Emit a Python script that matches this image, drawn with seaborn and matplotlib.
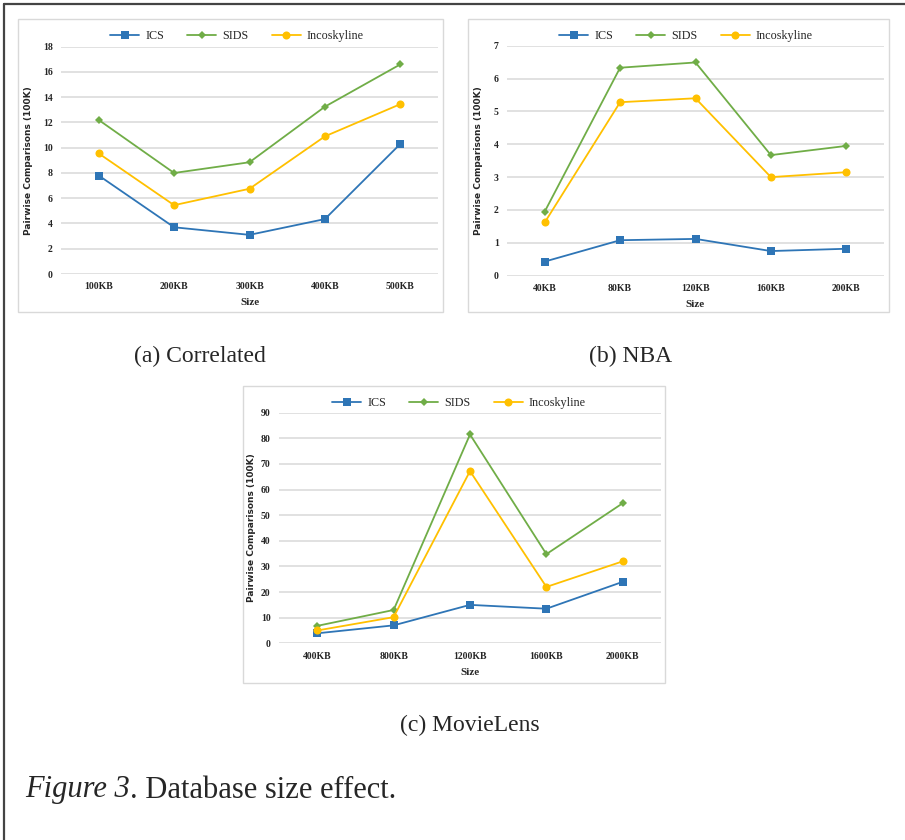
import numpy as np
import pandas as pd
import seaborn as sns
import matplotlib.pyplot as plt
from matplotlib.patches import Rectangle
from matplotlib.lines import Line2D

W, H = 905, 840

series = ['ICS', 'SIDS', 'Incoskyline']
colors = {'ICS': '#2E75B6', 'SIDS': '#70AD47', 'Incoskyline': '#FFC000'}
markers = {'ICS': 's', 'SIDS': 'D', 'Incoskyline': 'o'}
msizes = {'ICS': 5.4, 'SIDS': 3.6, 'Incoskyline': 5.8}

# (a) Correlated
corr_sizes = ['100KB', '200KB', '300KB', '400KB', '500KB']
corr_ics = [7.8, 3.7, 3.1, 4.35, 10.3]
corr_sids = [12.2, 8.0, 8.85, 13.25, 16.6]
corr_inco = [9.55, 5.45, 6.75, 10.9, 13.45]

# (b) NBA
nba_sizes = ['40KB', '80KB', '120KB', '160KB', '200KB']
nba_ics = [0.43, 1.08, 1.12, 0.75, 0.82]
nba_sids = [1.95, 6.33, 6.49, 3.67, 3.95]
nba_inco = [1.62, 5.28, 5.40, 3.0, 3.15]

# (c) MovieLens
movie_sizes = ['400KB', '800KB', '1200KB', '1600KB', '2000KB']
movie_ics = [3.9, 7.0, 15.0, 13.5, 24.0]
movie_sids = [6.8, 13.0, 81.5, 34.8, 54.7]
movie_inco = [5.0, 10.2, 67.2, 22.0, 32.0]

sns.set_style('white')
serif = 'Liberation Serif'

fig = plt.figure(figsize=(W / 100, H / 100), dpi=100)


def rect(l, t, r, b):
    return [l / W, 1 - b / H, (r - l) / W, (b - t) / H]


def panel(ax_px, sizes, vals, ymax, ystep, box_px, leg_x, leg_y, ylab_off, caption, cap_xy):
    l, t, r, b = box_px
    fig.add_artist(Rectangle((l / W, 1 - b / H), (r - l) / W, (b - t) / H,
                             transform=fig.transFigure, fill=False,
                             edgecolor='#D9D9D9', lw=1))
    ax = fig.add_axes(rect(*ax_px))
    for name, v in zip(series, vals):
        df = pd.DataFrame({'Size': sizes, 'value': v})
        sns.lineplot(data=df, x='Size', y='value', ax=ax, sort=False,
                     color=colors[name], marker=markers[name],
                     markersize=msizes[name], markeredgewidth=0,
                     lw=1.3, label=name)
    if ax.get_legend() is not None:
        ax.get_legend().remove()
    ax.set_xlim(-0.5, len(sizes) - 0.5)
    ax.set_ylim(0, ymax)
    ax.set_yticks(np.arange(0, ymax + ystep / 2, ystep))
    ax.grid(axis='y', color='#D9D9D9', lw=1.1)
    ax.grid(axis='x', visible=False)
    for s in ax.spines.values():
        s.set_visible(False)
    ax.tick_params(length=0, pad=6, labelsize=7)
    for tl in ax.get_xticklabels() + ax.get_yticklabels():
        tl.set_fontfamily(serif)
        tl.set_fontweight('bold')
    ax.set_xlabel('Size', fontfamily=serif, fontweight='bold', fontsize=8, labelpad=5)
    ax.set_ylabel('Pairwise Comparisons (100K)', fontfamily='DejaVu Sans',
                  fontweight='bold', fontsize=6.5)
    ax.yaxis.set_label_coords(ylab_off / (ax_px[2] - ax_px[0]), 0.5)
    h, lb = ax.get_legend_handles_labels()
    fig.legend(h, lb, loc='center', bbox_to_anchor=(leg_x / W, 1 - leg_y / H),
               ncol=3, frameon=False, handlelength=2.4, columnspacing=1.9,
               handletextpad=0.5, prop={'family': serif, 'size': 8.7})
    fig.text(cap_xy[0] / W, 1 - cap_xy[1] / H, caption, ha='center', va='center',
             fontfamily=serif, fontsize=17)
    return ax


panel((61, 46.7, 438, 274), corr_sizes, [corr_ics, corr_sids, corr_inco], 18, 2,
      (18, 19, 443, 312), 237, 36, -28, '(a) Correlated', (200, 356))
panel((507, 45.7, 884, 275.7), nba_sizes, [nba_ics, nba_sids, nba_inco], 7, 1,
      (468, 19, 889, 312), 686, 36, -24, '(b) NBA', (631, 356))
panel((279, 412.7, 661, 643.3), movie_sizes, [movie_ics, movie_sids, movie_inco], 90, 10,
      (243, 386, 665, 683), 459, 403, -23, '(c) MovieLens', (470, 725))

# outer frame (top and left edges)
fig.add_artist(Line2D([4 / W, 1], [1 - 4 / H, 1 - 4 / H], transform=fig.transFigure,
                      color='#444444', lw=1.6))
fig.add_artist(Line2D([4 / W, 4 / W], [0, 1 - 4 / H], transform=fig.transFigure,
                      color='#444444', lw=1.6))

t1 = fig.text(25 / W, 1 - 790 / H, 'Figure 3', fontfamily=serif, fontstyle='italic',
              fontsize=22, va='center', ha='left')
fig.canvas.draw()
bb = t1.get_window_extent(renderer=fig.canvas.get_renderer())
fig.text(bb.x1 / W, 1 - 790 / H, '. Database size effect.', fontfamily=serif,
         fontsize=22, va='center', ha='left')

fig.savefig('out.png', dpi=100)
